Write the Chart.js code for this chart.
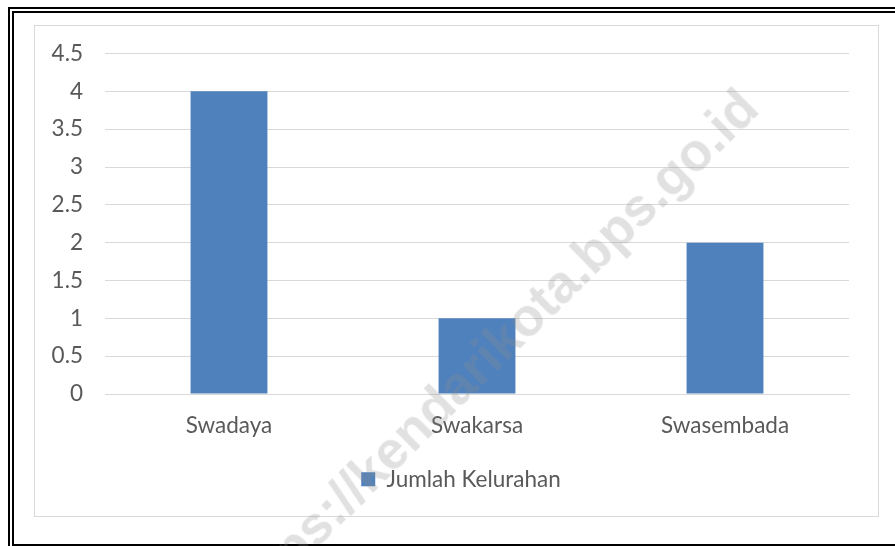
<!DOCTYPE html>
<html>
<head>
<meta charset="utf-8">
<script src="https://cdn.jsdelivr.net/npm/chart.js@4"></script>
<style>
  body { margin: 0; background: #fff; width: 895px; height: 546px; overflow: hidden; position: relative; }
  .frame-outer { position: absolute; left: 8px; top: 7px; width: 900px; height: 546px; border: 2px solid #000; box-sizing: border-box; }
  .frame-inner { position: absolute; left: 12px; top: 11px; width: 900px; height: 535px; border: 2px solid #000; box-sizing: border-box; }
  .chart-box { position: absolute; left: 34px; top: 25px; width: 845px; height: 492px; border: 1px solid #d9d9d9; box-sizing: border-box; }
  .chart-wrap { position: absolute; left: 35px; top: 18px; width: 842px; height: 498px; }
  .watermark { position: absolute; left: 490px; top: 352px; transform: translate(-50%, -50%) rotate(-44.5deg);
    font-family: "Liberation Sans", Arial, sans-serif; font-weight: bold; font-size: 53px; color: rgba(140,140,140,0.26);
    white-space: nowrap; pointer-events: none; }
</style>
</head>
<body>
<div class="frame-outer"></div>
<div class="frame-inner"></div>
<div class="chart-box"></div>
<div class="chart-wrap"><canvas id="chart"></canvas></div>
<div class="watermark">https://kendarikota.bps.go.id</div>
<script>
const categories = ['Swadaya', 'Swakarsa', 'Swasembada'];
const jumlahKelurahan = [4, 1, 2];
const seriesName = 'Jumlah Kelurahan';

const textColor = '#595959';
const fontFamily = 'Lato, "Open Sans", sans-serif';

// nudge the legend right so it sits where the original one does
const legendShift = {
    id: 'legendShift',
    afterLayout(chart) {
        chart.legend.left += 19;
        chart.legend.right += 19;
    }
};

const ctx = document.getElementById('chart').getContext('2d');
new Chart(ctx, {
    type: 'bar',
    data: {
        labels: categories,
        datasets: [{
            label: seriesName,
            data: jumlahKelurahan,
            backgroundColor: '#4f81bd',
            borderWidth: 0,
            categoryPercentage: 1,
            barPercentage: 0.31
        }]
    },
    options: {
        responsive: true,
        maintainAspectRatio: false,
        animation: false,
        layout: { padding: { top: 0, right: 28, bottom: 15.5, left: 0 } },
        scales: {
            y: {
                min: 0,
                max: 4.5,
                border: { display: false },
                grid: { color: '#d9d9d9', lineWidth: 1, drawTicks: false },
                ticks: {
                    stepSize: 0.5,
                    color: textColor,
                    padding: 22,
                    font: { family: fontFamily, size: 22.5 },
                    callback: function(value) { return String(Math.round(value * 10) / 10); }
                },
                afterFit: function(scale) { scale.width = 70; }
            },
            x: {
                border: { color: '#d9d9d9' },
                grid: { display: false, drawTicks: false },
                ticks: { color: textColor, padding: 18, font: { family: fontFamily, size: 22.5 } },
                afterFit: function(scale) { scale.height = 64; }
            }
        },
        plugins: {
            legend: {
                position: 'bottom',
                labels: {
                    boxWidth: 14,
                    boxHeight: 14,
                    padding: 10,
                    color: textColor,
                    font: { family: fontFamily, size: 22.5 }
                }
            },
            tooltip: { enabled: false }
        }
    },
    plugins: [legendShift]
});
</script>
</body>
</html>
